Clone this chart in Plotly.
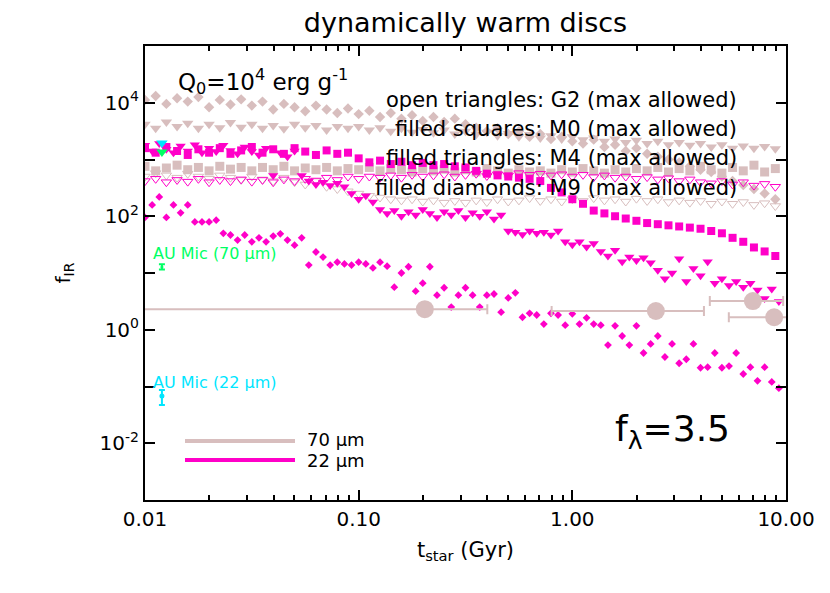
import plotly.graph_objects as go

# ---------------- data ----------------
# model time grids (Gyr)
t_coarse = [0.01000, 0.01122, 0.01259, 0.01413, 0.01585, 0.01778, 0.01995, 0.02239, 0.02512, 0.02818,
            0.03162, 0.03548, 0.03981, 0.04467, 0.05012, 0.05623, 0.06310, 0.07079, 0.07943, 0.08913,
            0.1000, 0.1122, 0.1259, 0.1413, 0.1585, 0.1778, 0.1995, 0.2239, 0.2512, 0.2818,
            0.3162, 0.3548, 0.3981, 0.4467, 0.5012, 0.5623, 0.6310, 0.7079, 0.7943, 0.8913,
            1.000, 1.122, 1.259, 1.413, 1.585, 1.778, 1.995, 2.239, 2.512, 2.818,
            3.162, 3.548, 3.981, 4.467, 5.012, 5.623, 6.310, 7.079, 7.943, 8.913]

t_fine = [0.01000, 0.01080, 0.01166, 0.01259, 0.01359, 0.01468, 0.01585, 0.01711, 0.01848, 0.01995,
          0.02154, 0.02326, 0.02512, 0.02712, 0.02929, 0.03162, 0.03415, 0.03687, 0.03981, 0.04299,
          0.04642, 0.05012, 0.05412, 0.05843, 0.06310, 0.06813, 0.07356, 0.07943, 0.08577, 0.09261,
          0.1000, 0.1080, 0.1166, 0.1259, 0.1359, 0.1468, 0.1585, 0.1711, 0.1848, 0.1995,
          0.2154, 0.2326, 0.2512, 0.2712, 0.2929, 0.3162, 0.3415, 0.3687, 0.3981, 0.4299,
          0.4642, 0.5012, 0.5412, 0.5843, 0.6310, 0.6813, 0.7356, 0.7943, 0.8577, 0.9261,
          1.000, 1.080, 1.166, 1.259, 1.359, 1.468, 1.585, 1.711, 1.848, 1.995,
          2.154, 2.326, 2.512, 2.712, 2.929, 3.162, 3.415, 3.687, 3.981, 4.299,
          4.642, 5.012, 5.412, 5.843, 6.310, 6.813, 7.356, 7.943, 8.577, 9.261]

# log10(f_IR)
# 70 micron (rose)
log_g2_70 = [2.70, 2.76, 2.72, 2.68, 2.75, 2.70, 2.66, 2.72, 2.68, 2.64,
             2.70, 2.65, 2.62, 2.68, 2.60, 2.56, 2.62, 2.52, 2.48, 2.44,
             2.40, 2.36, 2.33, 2.30, 2.28, 2.30, 2.26, 2.28, 2.24, 2.27,
             2.24, 2.28, 2.25, 2.30, 2.26, 2.28, 2.32, 2.27, 2.30, 2.26,
             2.30, 2.27, 2.32, 2.28, 2.30, 2.26, 2.31, 2.27, 2.30, 2.25,
             2.28, 2.24, 2.27, 2.22, 2.26, 2.22, 2.25, 2.20, 2.23, 2.18]
log_m0_70 = [2.88, 2.80, 2.85, 2.90, 2.82, 2.86, 2.80, 2.88, 2.83, 2.86,
             2.80, 2.86, 2.82, 2.88, 2.80, 2.85, 2.82, 2.86, 2.80, 2.84,
             2.82, 2.86, 2.80, 2.84, 2.82, 2.78, 2.84, 2.80, 2.83, 2.78,
             2.82, 2.78, 2.84, 2.80, 2.76, 2.82, 2.78, 2.80, 2.76, 2.82,
             2.78, 2.84, 2.80, 2.76, 2.82, 2.78, 2.84, 2.80, 2.86, 2.78,
             2.84, 2.80, 2.88, 2.82, 2.76, 2.86, 2.80, 2.90, 2.78, 2.84]
log_m4_70 = [3.62, 3.55, 3.66, 3.58, 3.64, 3.55, 3.62, 3.56, 3.65, 3.57,
             3.62, 3.55, 3.60, 3.54, 3.62, 3.56, 3.60, 3.52, 3.58, 3.55,
             3.58, 3.52, 3.56, 3.50, 3.55, 3.48, 3.53, 3.47, 3.52, 3.45,
             3.50, 3.44, 3.48, 3.42, 3.46, 3.40, 3.44, 3.38, 3.42, 3.36,
             3.40, 3.35, 3.38, 3.32, 3.36, 3.30, 3.34, 3.28, 3.32, 3.26,
             3.30, 3.25, 3.28, 3.22, 3.26, 3.20, 3.24, 3.20, 3.23, 3.19]
log_m9_70 = [4.05, 4.12, 3.98, 4.08, 4.02, 4.10, 3.92, 4.05, 3.97, 4.06,
             3.95, 4.02, 3.88, 3.98, 3.92, 3.85, 3.95, 3.88, 3.82, 3.90,
             3.80, 3.86, 3.75, 3.82, 3.72, 3.78, 3.68, 3.75, 3.66, 3.72,
             3.62, 3.56, 3.50, 3.55, 3.45, 3.50, 3.40, 3.45, 3.36, 3.40,
             3.32, 3.28, 3.35, 3.22, 3.26, 3.15, 3.20, 3.10, 3.05, 3.00,
             2.95, 2.88, 2.82, 2.78, 2.70, 2.62, 2.55, 2.48, 2.40, 2.30]

# 22 micron (magenta)
log_g2_22 = [2.62, 2.66, 2.60, 2.64, 2.61, 2.66, 2.60, 2.64, 2.62, 2.65,
             2.61, 2.64, 2.60, 2.65, 2.62, 2.66, 2.63, 2.68, 2.64, 2.70,
             2.66, 2.70, 2.68, 2.72, 2.68, 2.73, 2.70, 2.72, 2.74, 2.70,
             2.73, 2.75, 2.71, 2.74, 2.72, 2.76, 2.73, 2.75, 2.72, 2.74,
             2.70, 2.73, 2.69, 2.72, 2.68, 2.70, 2.66, 2.69, 2.65, 2.67,
             2.62, 2.65, 2.60, 2.58, 2.62, 2.56, 2.60, 2.54, 2.57, 2.52]
log_m0_22 = [3.20, 3.12, 3.22, 3.15, 3.08, 3.18, 3.12, 3.20, 3.10, 3.16,
             3.22, 3.12, 3.18, 3.10, 3.20, 3.14, 3.08, 3.16, 3.10, 3.12,
             3.02, 2.95, 2.98, 2.92, 2.96, 2.90, 2.94, 2.90, 2.92, 2.88,
             2.86, 2.80, 2.75, 2.72, 2.70, 2.68, 2.66, 2.62, 2.50, 2.42,
             2.30, 2.22, 2.10, 2.05, 2.00, 1.96, 1.92, 1.88, 1.86, 1.84,
             1.82, 1.80, 1.78, 1.74, 1.70, 1.62, 1.55, 1.45, 1.38, 1.30]
log_m4_22 = [3.25, 3.15, 3.28, 3.18, 3.12, 3.24, 3.15, 3.26, 3.12, 3.20,
             3.14, 3.25, 3.16, 3.10, 3.22, 3.14, 3.08, 3.20, 2.72, 3.12,
             3.05, 3.15, 2.72, 2.62, 2.56, 2.60, 2.54, 2.58, 2.52, 2.40,
             2.30, 2.36, 2.25, 2.12, 2.05, 2.10, 2.00, 2.08, 2.02, 2.12,
             2.05, 1.98, 2.08, 2.02, 2.10, 1.98, 2.06, 2.00, 2.08, 1.95,
             2.02, 1.74, 1.72, 1.68, 1.74, 1.70, 1.72, 1.67, 1.74, 1.55,
             1.50, 1.55, 1.46, 1.52, 1.38, 1.30, 1.40, 1.20, 1.28, 1.22,
             1.27, 1.18, 1.05, 0.90, 1.00, 1.25, 0.85, 1.08, 0.95, 1.20,
             0.82, 0.90, 0.78, 0.85, 0.75, 0.82, 0.70, 0.55, 0.72, 0.50]
log_m9_22 = [1.98, 2.20, 2.34, 1.98, 2.20, 2.06, 2.20, 1.90, 1.90, 1.90,
             1.93, 1.70, 1.67, 1.58, 1.67, 1.55, 1.62, 1.55, 1.65, 1.69,
             1.58, 1.49, 1.62, 1.14, 1.37, 1.28, 1.14, 1.19, 1.16, 1.14,
             1.19, 1.16, 1.09, 1.19, 1.12, 0.75, 1.00, 1.11, 0.68, 0.82,
             1.11, 0.61, 0.74, 0.40, 0.61, 0.74, 0.61, 0.40, 0.61, 0.63,
             0.31, 0.56, 0.65, 0.22, 0.29, 0.26, 0.10, 0.29, 0.26, 0.08,
             0.28, 0.10, 0.21, 0.10, 0.08, -0.27, 0.07, -0.11, -0.27, 0.07,
             -0.41, -0.25, -0.11, -0.48, -0.25, -0.59, -0.52, -0.25, -0.67, -0.66,
             -0.41, -0.67, -0.64, -0.41, -0.78, -0.66, -0.90, -0.66, -0.92, -1.03]

# observed 70 micron detections (age, f_IR, age range)
obs_t = [0.204, 2.46, 7.0, 8.8]
obs_f = [2.3, 2.14, 3.2, 1.66]
obs_tlo = [0.001, 0.80, 4.4, 5.4]
obs_thi = [0.40, 4.13, 9.7, 13.0]

# AU Mic
aumic_t = 0.012
aumic70_f, aumic70_lo, aumic70_hi = 12.8, 11.5, 14.3
aumic22_f, aumic22_lo, aumic22_hi = 0.068, 0.047, 0.087
aumic70_max = 1350
aumic22_max = 1950

x_tickvals = [0.01, 0.1, 1, 10]
x_ticktext = ["0.01", "0.10", "1.00", "10.00"]
x_minor = [0.02, 0.03, 0.04, 0.05, 0.06, 0.07, 0.08, 0.09,
           0.2, 0.3, 0.4, 0.5, 0.6, 0.7, 0.8, 0.9,
           2, 3, 4, 5, 6, 7, 8, 9]
y_tickvals = [1e-3, 1e-2, 1e-1, 1e0, 1e1, 1e2, 1e3, 1e4, 1e5]
y_ticktext = ["", "10<sup>-2</sup>", "", "10<sup>0</sup>", "", "10<sup>2</sup>", "", "10<sup>4</sup>", ""]

ROSE = "rgb(216,190,190)"
MAG = "rgb(255,0,200)"
GREEN = "rgb(0,255,100)"
CYAN = "rgb(0,230,255)"
FONT = "'DejaVu Sans', sans-serif"


def lin(v):
    return [10 ** a for a in v]


fig = go.Figure()

def add(t, logv, color, symbol, size, lw=0):
    fig.add_trace(go.Scatter(
        x=t, y=lin(logv), mode="markers", showlegend=False,
        marker=dict(symbol=symbol, size=size, color=color,
                    line=dict(width=lw, color=color))))

# rose (70 micron)
add(t_coarse, log_g2_70, ROSE, "triangle-down-open", 9, 1)
add(t_coarse, log_m9_70, ROSE, "diamond", 8)
add(t_coarse, log_m4_70, ROSE, "triangle-down", 10)
add(t_coarse, log_m0_70, ROSE, "square", 9)
# magenta (22 micron)
add(t_coarse, log_g2_22, MAG, "triangle-down-open", 9, 1)
add(t_coarse, log_m0_22, MAG, "square", 8)
add(t_fine, log_m4_22, MAG, "triangle-down", 9)
add(t_fine, log_m9_22, MAG, "diamond", 6)

# observed points with age ranges
fig.add_trace(go.Scatter(
    x=obs_t, y=obs_f, mode="markers", showlegend=False,
    marker=dict(symbol="circle", size=18, color=ROSE),
    error_x=dict(type="data", symmetric=False,
                 array=[h - t for h, t in zip(obs_thi, obs_t)],
                 arrayminus=[t - l for l, t in zip(obs_tlo, obs_t)],
                 color=ROSE, thickness=2, width=5)))

# AU Mic
fig.add_trace(go.Scatter(
    x=[aumic_t], y=[aumic70_f], mode="markers", showlegend=False,
    marker=dict(symbol="circle", size=3, color=GREEN),
    error_y=dict(type="data", symmetric=False, array=[aumic70_hi - aumic70_f],
                 arrayminus=[aumic70_f - aumic70_lo], color=GREEN, thickness=2, width=3)))
fig.add_trace(go.Scatter(
    x=[aumic_t], y=[aumic22_f], mode="markers", showlegend=False,
    marker=dict(symbol="circle", size=5, color=CYAN),
    error_y=dict(type="data", symmetric=False, array=[aumic22_hi - aumic22_f],
                 arrayminus=[aumic22_f - aumic22_lo], color=CYAN, thickness=2, width=3)))
fig.add_trace(go.Scatter(
    x=[aumic_t], y=[aumic22_max], mode="markers", showlegend=False,
    marker=dict(symbol="triangle-down", size=10, color=CYAN)))
fig.add_trace(go.Scatter(
    x=[aumic_t], y=[aumic70_max], mode="markers", showlegend=False,
    marker=dict(symbol="triangle-down", size=10, color=GREEN)))

axis_common = dict(showline=True, linecolor="black", linewidth=2, mirror="ticks",
                   ticks="inside", tickcolor="black", tickwidth=1.5,
                   showgrid=False, zeroline=False)

fig.update_xaxes(type="log", range=[-2, 1], tickmode="array", tickvals=x_tickvals,
                 ticktext=x_ticktext, ticklen=10,
                 minor=dict(ticks="inside", tickvals=x_minor, ticklen=5,
                            tickcolor="black", tickwidth=1.5, showgrid=False),
                 tickfont=dict(size=20, color="black", family=FONT),
                 title=dict(text="t<sub>star</sub> (Gyr)", font=dict(size=21, color="black", family=FONT),
                            standoff=12),
                 **axis_common)
fig.update_yaxes(type="log", range=[-3, 5], tickmode="array", tickvals=y_tickvals,
                 ticktext=y_ticktext, ticklen=10,
                 tickfont=dict(size=20, color="black", family=FONT),
                 title=dict(text="f<sub>IR</sub>", font=dict(size=20, color="black", family=FONT),
                            standoff=24),
                 **axis_common)

def note(text, x, y, size, color="black", xanchor="left"):
    fig.add_annotation(text=text, x=x, y=y, xref="paper", yref="paper", showarrow=False,
                       xanchor=xanchor, yanchor="middle",
                       font=dict(size=size, color=color, family=FONT))

note("Q<sub>0</sub>=10<sup>4</sup> erg g<sup>-1</sup>", 0.048, 0.921, 23)
note("open triangles: G2 (max allowed)", 0.927, 0.881, 21, xanchor="right")
note("filled squares: M0 (max allowed)", 0.927, 0.817, 21, xanchor="right")
note("filled triangles: M4 (max allowed)", 0.927, 0.753, 21, xanchor="right")
note("filled diamonds: M9 (max allowed)", 0.927, 0.687, 21, xanchor="right")
note("AU Mic (70 μm)", 0.010, 0.542, 16, GREEN)
note("AU Mic (22 μm)", 0.010, 0.258, 16, CYAN)
note("70 μm", 0.250, 0.134, 18)
note("22 μm", 0.250, 0.087, 18)
note("f<sub>λ</sub>=3.5", 0.730, 0.150, 36)

fig.add_shape(type="line", xref="paper", yref="paper", x0=0.0624, x1=0.234, y0=0.130, y1=0.130,
              line=dict(color=ROSE, width=4))
fig.add_shape(type="line", xref="paper", yref="paper", x0=0.0624, x1=0.234, y0=0.088, y1=0.088,
              line=dict(color=MAG, width=4))

fig.update_layout(
    width=822, height=577,
    margin=dict(l=137, r=44, t=38, b=85),
    paper_bgcolor="white", plot_bgcolor="white",
    title=dict(text="dynamically warm discs", x=0.5, xref="paper", xanchor="center",
               y=0.975, yanchor="middle",
               font=dict(size=27, color="black", family=FONT)),
)

fig.write_html("out.html")
